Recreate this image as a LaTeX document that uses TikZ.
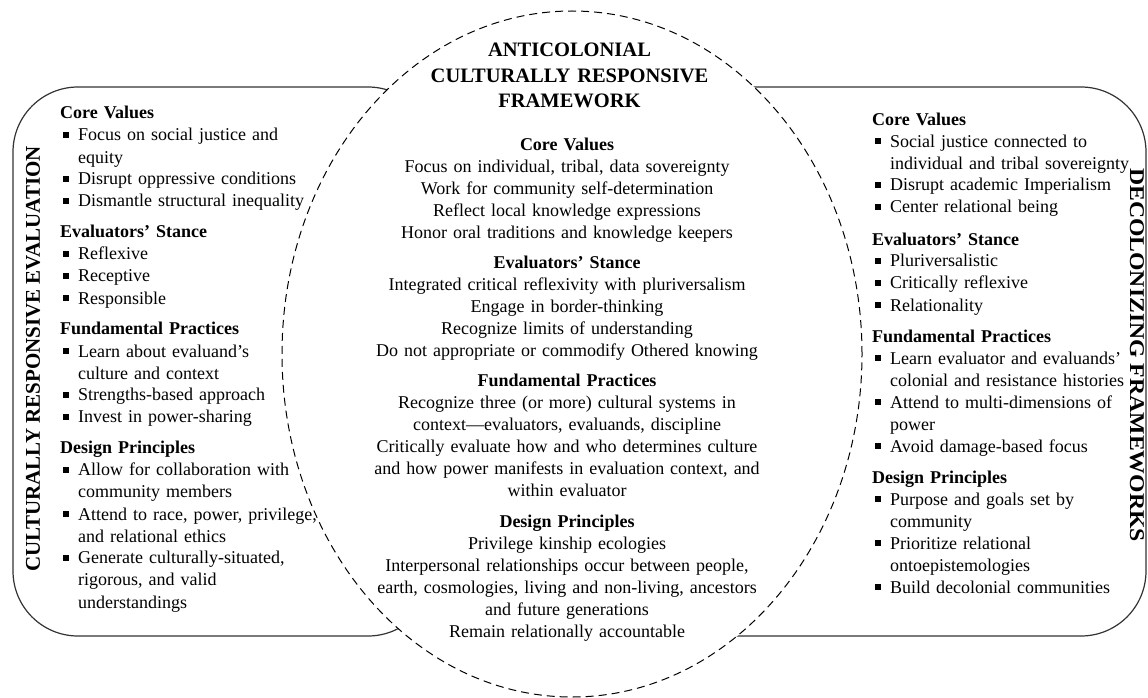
\documentclass[tikz,border=0pt]{standalone}
\usepackage{fontspec}
\setmainfont{Liberation Serif}
\newcommand{\sqbul}{\hspace*{3pt}\raisebox{3pt}{\rule{6pt}{6pt}}\hspace*{9pt}}
\newcommand{\ind}{\hspace*{18pt}}
\begin{document}
\begin{tikzpicture}[x=1pt,y=-1pt,
    sidebox/.style={draw=black!80,line width=1.2pt,rounded corners=65pt},
    listtext/.style={anchor=base west,inner sep=0pt,text width=330pt,align=left,
      font=\fontsize{18}{22}\selectfont},
    midtext/.style={anchor=base,inner sep=0pt,text width=520pt,align=center,
      font=\fontsize{18}{22}\selectfont},
    sidetitle/.style={inner sep=0pt,font=\bfseries\fontsize{21}{25}\selectfont}]
    \useasboundingbox (0,0) rectangle (1148,698);
    \coordinate (O) at (572,354);

    \draw[sidebox] (13,87) rectangle (433,636);
    \draw[sidebox] (660,87) rectangle (1146,636);
    \draw[fill=white,line width=1pt,dash pattern=on 8pt off 5pt]
      (O) ellipse [x radius=290pt,y radius=343pt];

    \node[sidetitle,rotate=90] (lefttitle) at (33,359) {CULTURALLY RESPONSIVE EVALUATION};
    \node[sidetitle,rotate=-90] (righttitle) at (1137,355)
      {\scalebox{1.13}[1]{DECOLONIZING FRAMEWORKS}};

    \node[midtext,font=\bfseries\fontsize{20.5}{25.5}\selectfont] (title) at (569.5,57)
      {ANTICOLONIAL\\CULTURALLY RESPONSIVE\\FRAMEWORK};

    \node[listtext] (leftlist) at (60,119) {%
      \textbf{Core Values}\\
      \sqbul Focus on social justice and\\
      \ind equity\\
      \sqbul Disrupt oppressive conditions\\
      \sqbul Dismantle structural inequality\\[9pt]
      \textbf{Evaluators’ Stance}\\
      \sqbul Reflexive\\
      \sqbul Receptive\\
      \sqbul Responsible\\[9pt]
      \textbf{Fundamental Practices}\\
      \sqbul Learn about evaluand’s\\
      \ind culture and context\\
      \sqbul Strengths-based approach\\
      \sqbul Invest in power-sharing\\[9pt]
      \textbf{Design Principles}\\
      \sqbul Allow for collaboration with\\
      \ind community members\\
      \sqbul Attend to race, power, privilege,\\
      \ind and relational ethics\\
      \sqbul Generate culturally-situated,\\
      \ind rigorous, and valid\\
      \ind understandings};

    \node[midtext] (midlist) at (567,150) {%
      \textbf{Core Values}\\
      Focus on individual, tribal, data sovereignty\\
      Work for community self-determination\\
      Reflect local knowledge expressions\\
      Honor oral traditions and knowledge keepers\\[8pt]
      \textbf{Evaluators’ Stance}\\
      Integrated critical reflexivity with pluriversalism\\
      Engage in border-thinking\\
      Recognize limits of understanding\\
      Do not appropriate or commodify Othered knowing\\[8pt]
      \textbf{Fundamental Practices}\\
      Recognize three (or more) cultural systems in\\
      context—evaluators, evaluands, discipline\\
      Critically evaluate how and who determines culture\\
      and how power manifests in evaluation context, and\\
      within evaluator\\[9pt]
      \textbf{Design Principles}\\
      Privilege kinship ecologies\\
      Interpersonal relationships occur between people,\\
      earth, cosmologies, living and non-living, ancestors\\
      and future generations\\
      Remain relationally accountable};

    \node[listtext] (rightlist) at (872,125) {%
      \textbf{Core Values}\\
      \sqbul Social justice connected to\\
      \ind individual and tribal sovereignty\\
      \sqbul Disrupt academic Imperialism\\
      \sqbul Center relational being\\[10pt]
      \textbf{Evaluators’ Stance}\\
      \sqbul Pluriversalistic\\
      \sqbul Critically reflexive\\
      \sqbul Relationality\\[9pt]
      \textbf{Fundamental Practices}\\
      \sqbul Learn evaluator and evaluands’\\
      \ind colonial and resistance histories\\
      \sqbul Attend to multi-dimensions of\\
      \ind power\\
      \sqbul Avoid damage-based focus\\[9pt]
      \textbf{Design Principles}\\
      \sqbul Purpose and goals set by\\
      \ind community\\
      \sqbul Prioritize relational\\
      \ind ontoepistemologies\\
      \sqbul Build decolonial communities};
\end{tikzpicture}
\end{document}
